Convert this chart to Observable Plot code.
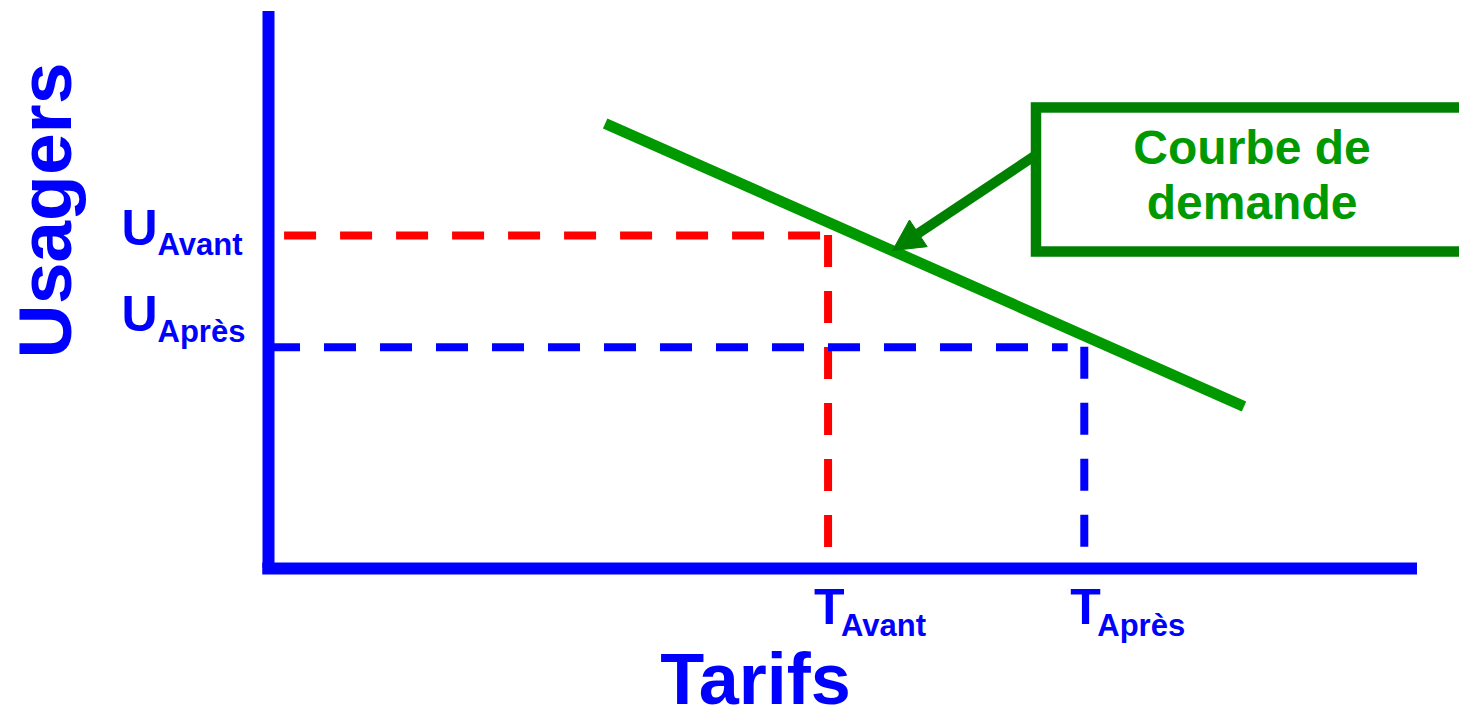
<!DOCTYPE html>
<html>
<head>
<meta charset="utf-8">
<script src="https://cdn.jsdelivr.net/npm/d3@7"></script>
<script src="https://cdn.jsdelivr.net/npm/@observablehq/plot@0.6"></script>
<style>
  html, body { margin: 0; padding: 0; background: #fff; overflow: hidden; }
  #chart svg { display: block; }
</style>
</head>
<body>
<div id="chart"></div>
<script>
// ---------------- data ----------------
const periodLabels = ["Avant", "Après"];          // subscripts
const tarifValues = [48.7, 71.0];                 // T_Avant, T_Après (x)
const usagerValues = [59.8, 39.7];                // U_Avant, U_Après (y)
const demandTarifs = [29.3, 84.9];                // demand curve x
const demandUsagers = [79.9, 29.1];               // demand curve y
const annotationLines = ["Courbe de", "demande"];
const annotationBoxTarifs = [66.84, 105];         // box x extent
const annotationBoxUsagers = [56.82, 82.68];      // box y extent
const annotationTextTarif = [85.6];
const annotationTextUsagers = [69.8];
const arrowFrom = [66.84, 74.3];                  // [tarif, usagers]
const arrowTo = [54.31, 57.09];                   // tip on demand curve
const axisTitles = ["Tarifs", "Usagers"];

// ---------------- layout ----------------
const W = 1459, H = 708, mL = 268, mR = 42, mT = 11, mB = 140;
const kx = (W - mL - mR) / 100, ky = (H - mT - mB) / 100;
const toPx = ([x, y]) => [mL + x * kx, H - mB - y * ky];
const toData = ([px, py]) => [(px - mL) / kx, (H - mB - py) / ky];

// arrow head geometry (computed from arrow data)
const S = toPx(arrowFrom), T = toPx(arrowTo);
const len = Math.hypot(S[0] - T[0], S[1] - T[1]);
const u = [(S[0] - T[0]) / len, (S[1] - T[1]) / len];
const n = [-u[1], u[0]];
const headL = 31, headW = 16;
const base = [T[0] + u[0] * headL, T[1] + u[1] * headL];
const head = [
  T,
  [base[0] + n[0] * headW, base[1] + n[1] * headW],
  [base[0] - n[0] * headW, base[1] - n[1] * headW],
  T
].map(toData);
const shaftEnd = toData([T[0] + u[0] * 16, T[1] + u[1] * 16]);

const BLUE = "#0000FF", RED = "#FF0000", GREEN = "#009900", DGREEN = "#008000";
const FONT = "Liberation Sans, Arial, Helvetica, sans-serif";
const dash = "32,24";
const guideBottom = 3.6, redStart = 1.4, blueEnd = 69.6;

const txt = (opts) => ({fontFamily: FONT, fontWeight: "bold", ...opts});

const chart = Plot.plot({
  width: W, height: H,
  marginLeft: mL, marginRight: mR, marginTop: mT, marginBottom: mB,
  x: {domain: [0, 100], axis: null},
  y: {domain: [0, 100], axis: null},
  marks: [
    // guide lines
    Plot.ruleY([usagerValues[0]], {x1: redStart, x2: tarifValues[0], stroke: RED, strokeWidth: 8, strokeDasharray: dash}),
    Plot.ruleX([tarifValues[0]], {y1: usagerValues[0], y2: guideBottom, stroke: RED, strokeWidth: 8, strokeDasharray: dash}),
    Plot.ruleY([usagerValues[1]], {x1: 0, x2: blueEnd, stroke: BLUE, strokeWidth: 8, strokeDasharray: dash}),
    Plot.ruleX([tarifValues[1]], {y1: usagerValues[1], y2: guideBottom, stroke: BLUE, strokeWidth: 8, strokeDasharray: dash}),
    // axes
    Plot.ruleY([0], {x1: -0.5, x2: 100, stroke: BLUE, strokeWidth: 12}),
    Plot.ruleX([0], {y1: 0, y2: 100, stroke: BLUE, strokeWidth: 12}),
    // demand curve
    Plot.line(demandTarifs.map((t, i) => ({t, u: demandUsagers[i]})), {x: "t", y: "u", stroke: GREEN, strokeWidth: 11, strokeLinecap: "butt"}),
    // annotation box
    Plot.rect([0], {x1: () => annotationBoxTarifs[0], x2: () => annotationBoxTarifs[1], y1: () => annotationBoxUsagers[0], y2: () => annotationBoxUsagers[1], fill: "none", stroke: DGREEN, strokeWidth: 10.5}),
    Plot.text([annotationLines[0]], {x: () => annotationTextTarif[0], y: () => annotationTextUsagers[0], text: d => d, ...txt({fontSize: 48, fill: GREEN, textAnchor: "middle", lineAnchor: "bottom", dy: -16})}),
    Plot.text([annotationLines[1]], {x: () => annotationTextTarif[0], y: () => annotationTextUsagers[0], text: d => d, ...txt({fontSize: 48, fill: GREEN, textAnchor: "middle", lineAnchor: "bottom", dy: 39})}),
    // arrow
    Plot.link([0], {x1: () => arrowFrom[0], y1: () => arrowFrom[1], x2: () => shaftEnd[0], y2: () => shaftEnd[1], stroke: DGREEN, strokeWidth: 10, strokeLinecap: "butt"}),
    Plot.line(head, {x: d => d[0], y: d => d[1], fill: DGREEN, stroke: DGREEN, strokeWidth: 1, strokeLinejoin: "miter"}),
    // U labels
    Plot.text([usagerValues[0]], {y: d => d, text: () => "U", frameAnchor: "left", ...txt({fontSize: 50, fill: BLUE, textAnchor: "start", lineAnchor: "bottom", dx: -147, dy: 10})}),
    Plot.text([usagerValues[0]], {y: d => d, text: () => periodLabels[0], frameAnchor: "left", ...txt({fontSize: 31, fill: BLUE, textAnchor: "start", lineAnchor: "bottom", dx: -111, dy: 20})}),
    Plot.text([usagerValues[1]], {y: d => d, text: () => "U", frameAnchor: "left", ...txt({fontSize: 50, fill: BLUE, textAnchor: "start", lineAnchor: "bottom", dx: -147, dy: -16})}),
    Plot.text([usagerValues[1]], {y: d => d, text: () => periodLabels[1], frameAnchor: "left", ...txt({fontSize: 31, fill: BLUE, textAnchor: "start", lineAnchor: "bottom", dx: -111, dy: -5})}),
    // T labels
    Plot.text(tarifValues, {x: d => d, text: () => "T", frameAnchor: "bottom", ...txt({fontSize: 50, fill: BLUE, textAnchor: "start", lineAnchor: "bottom", dx: -14, dy: 55})}),
    Plot.text(tarifValues, {x: d => d, text: (d, i) => periodLabels[i], frameAnchor: "bottom", ...txt({fontSize: 31, fill: BLUE, textAnchor: "start", lineAnchor: "bottom", dx: 13, dy: 67})}),
    // axis titles
    Plot.text([axisTitles[0]], {text: d => d, frameAnchor: "bottom", ...txt({fontSize: 72, fill: BLUE, textAnchor: "middle", lineAnchor: "bottom", dx: -87.5, dy: 135})}),
    Plot.text([axisTitles[1]], {text: d => d, frameAnchor: "left", rotate: -90, ...txt({fontSize: 75, fill: BLUE, textAnchor: "middle", lineAnchor: "bottom", dx: -198, dy: -79.5})})
  ]
});

document.getElementById("chart").appendChild(chart);
</script>
</body>
</html>
